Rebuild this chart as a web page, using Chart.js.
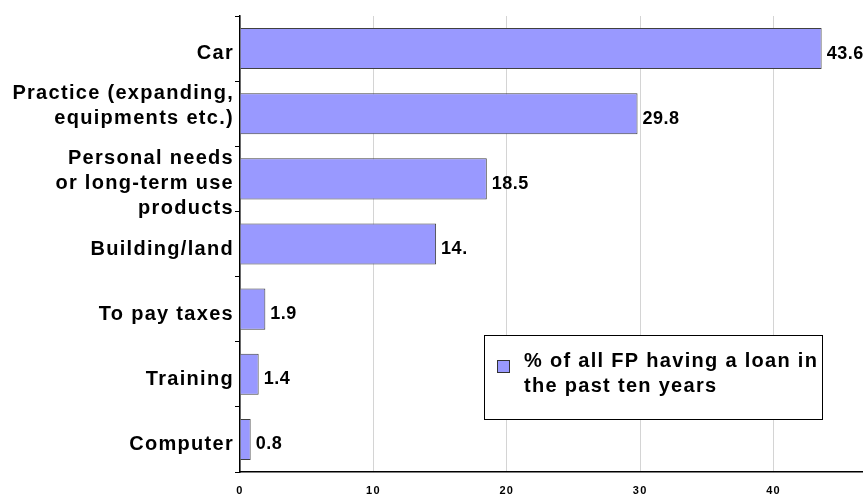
<!DOCTYPE html>
<html>
<head>
<meta charset="utf-8">
<script src="https://cdn.jsdelivr.net/npm/chart.js@4.4.1/dist/chart.umd.min.js"></script>
<style>
  html, body { margin: 0; padding: 0; background: #fff; }
  #wrap { width: 863px; height: 494px; }
</style>
</head>
<body>
<div id="wrap"><canvas id="loanChart" width="863" height="494"></canvas></div>
<script>
// data
const categories = [
    'Car',
    ['Practice (expanding,', 'equipments etc.)'],
    ['Personal needs', 'or long-term use', 'products'],
    'Building/land',
    'To pay taxes',
    'Training',
    'Computer'
];
const loanShare = [43.6, 29.8, 18.5, 14.7, 1.9, 1.4, 0.8];
const valueLabels = ['43.6', '29.8', '18.5', '14.', '1.9', '1.4', '0.8'];
const legendLines = ['% of all FP having a loan in', 'the past ten years'];
const xTicks = [0, 10, 20, 30, 40];

const FONT = "'Liberation Sans', Arial, sans-serif";

// spread the letters a bit like the original export
const spacingPlugin = {
    id: 'spacing',
    beforeLayout(chart) { chart.ctx.letterSpacing = '1.3px'; },
    beforeDraw(chart) { chart.ctx.letterSpacing = '1.3px'; }
};

// numbers at the end of each bar
const valueLabelPlugin = {
    id: 'valueLabels',
    afterDatasetsDraw(chart) {
        const ctx = chart.ctx;
        const meta = chart.getDatasetMeta(0);
        ctx.save();
        ctx.letterSpacing = '0.5px';
        ctx.font = 'bold 18px ' + FONT;
        ctx.fillStyle = '#000';
        ctx.textAlign = 'left';
        ctx.textBaseline = 'middle';
        meta.data.forEach(function(bar, i) {
            ctx.fillText(valueLabels[i], bar.x + 5, bar.y + 5);
        });
        ctx.restore();
    }
};

// boxed legend sitting inside the plot
const boxLegendPlugin = {
    id: 'boxLegend',
    afterDraw(chart) {
        const ctx = chart.ctx;
        const ds = chart.data.datasets[0];
        const bx = 484, by = 335, bw = 338, bh = 84;
        ctx.save();
        ctx.fillStyle = '#fff';
        ctx.fillRect(bx, by, bw, bh);
        ctx.strokeStyle = '#000';
        ctx.lineWidth = 1;
        ctx.strokeRect(bx + 0.5, by + 0.5, bw, bh);
        ctx.fillStyle = ds.backgroundColor;
        ctx.fillRect(497, 360, 12, 12);
        ctx.strokeStyle = '#333';
        ctx.strokeRect(497.5, 360.5, 12, 12);
        ctx.letterSpacing = '1.3px';
        ctx.font = 'bold 20px ' + FONT;
        ctx.fillStyle = '#000';
        ctx.textAlign = 'left';
        ctx.textBaseline = 'middle';
        legendLines.forEach(function(line, i) {
            ctx.fillText(line, 524, 361 + i * 25);
        });
        ctx.restore();
    }
};

const ctx = document.getElementById('loanChart').getContext('2d');
const loanChart = new Chart(ctx, {
    type: 'bar',
    data: {
        labels: categories,
        datasets: [{
            label: legendLines.join(' '),
            data: loanShare,
            backgroundColor: '#9999ff',
            borderColor: '#404040',
            borderWidth: 1,
            barPercentage: 0.63,
            categoryPercentage: 1
        }]
    },
    options: {
        indexAxis: 'y',
        responsive: false,
        animation: false,
        layout: { padding: { top: 16, right: 0, left: 0, bottom: 0 } },
        scales: {
            x: {
                min: 0,
                max: 46.7,
                afterFit: function(scale) { scale.height = 22; },
                afterBuildTicks: function(scale) {
                    scale.ticks = xTicks.map(function(v) { return { value: v }; });
                },
                grid: {
                    color: '#d4d4d4',
                    lineWidth: 1,
                    drawTicks: false
                },
                border: { color: '#000', width: 1.5 },
                ticks: {
                    color: '#000',
                    padding: 12,
                    font: { family: FONT, size: 11, weight: 'bold' }
                }
            },
            y: {
                afterFit: function(scale) { scale.width = 240; },
                grid: {
                    offset: true,
                    drawOnChartArea: false,
                    drawTicks: true,
                    tickLength: 5,
                    tickColor: '#000',
                    tickWidth: 1
                },
                border: { color: '#000', width: 1.5 },
                ticks: {
                    color: '#000',
                    padding: 1,
                    labelOffset: 5,
                    autoSkip: false,
                    // two-line labels sit higher in the original, pad them with a blank line
                    callback: function(value) {
                        const l = this.getLabelForValue(value);
                        return (Array.isArray(l) && l.length === 2) ? l.concat(['']) : l;
                    },
                    font: { family: FONT, size: 20, weight: 'bold', lineHeight: 1.25 }
                }
            }
        },
        plugins: {
            legend: { display: false },
            tooltip: { enabled: false }
        }
    },
    plugins: [spacingPlugin, valueLabelPlugin, boxLegendPlugin]
});
</script>
</body>
</html>
